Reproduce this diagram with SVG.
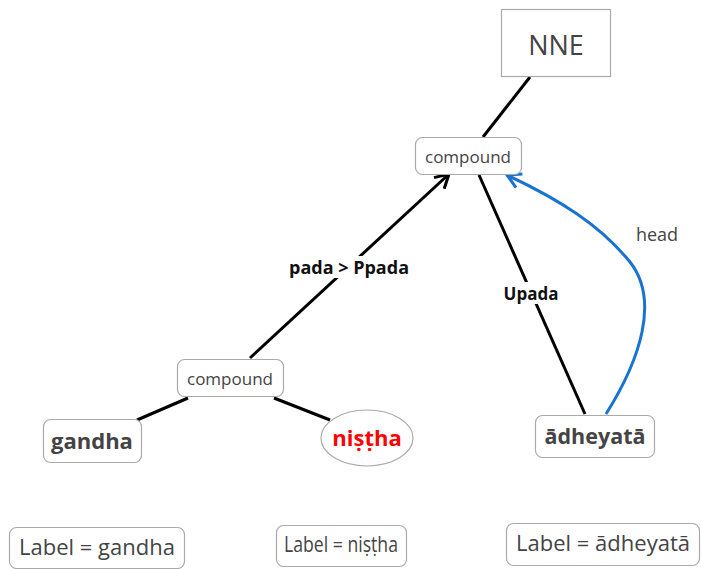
<svg xmlns="http://www.w3.org/2000/svg" width="701" height="569" viewBox="0 0 701 569">
<style>
text{font-family:"Open Sans","Noto Sans","DejaVu Sans",sans-serif;fill:#444;text-anchor:middle;dominant-baseline:central}
.box{fill:#fff;stroke:#aaa;stroke-width:1.2}
.e{fill:none;stroke:#000;stroke-width:3}
.b{font-weight:bold}
.lbl{font-weight:bold;fill:#111}
</style>
<defs>
<marker id="ak" viewBox="0 0 12 12" refX="10" refY="6" markerWidth="6" markerHeight="6" orient="auto" markerUnits="strokeWidth"><path d="M1,1 L10,6 L1,11" fill="none" stroke="#000" stroke-width="2"/></marker>
<marker id="ab" viewBox="0 0 12 12" refX="10" refY="6" markerWidth="6" markerHeight="6" orient="auto" markerUnits="strokeWidth"><path d="M1,1 L10,6 L1,11" fill="none" stroke="#1874d0" stroke-width="2"/></marker>
</defs>
<g id="edges">
<line class="e" x1="530" y1="77" x2="483" y2="137"/>
<line class="e" x1="250" y1="358" x2="449" y2="174" marker-end="url(#ak)"/>
<line class="e" x1="479" y1="175" x2="585" y2="414"/>
<line class="e" x1="188" y1="398" x2="137" y2="420"/>
<line class="e" x1="274" y1="398" x2="330" y2="420"/>
<path d="M606,414 C640,360 660,300 630,262 C600,225 560,200 507,175" fill="none" stroke="#1874d0" stroke-width="3" marker-end="url(#ab)"/>
<rect x="286" y="256" width="126" height="22" fill="#fff"/>
<text class="lbl" x="349" y="267" style="font-size:18px">pada &gt; Ppada</text>
<rect x="501" y="282" width="60" height="22" fill="#fff"/>
<text class="lbl" x="531" y="293" style="font-size:17px">Upada</text>
<text x="657" y="234" style="font-size:18px">head</text>
</g>
<g id="nne"><rect class="box" x="501.5" y="9.5" width="109" height="67"/><text x="556" y="44" style="font-size:27px">NNE</text></g>
<g id="compound1"><rect class="box" x="415.5" y="137.5" width="106" height="37" rx="7"/><text x="468" y="156" style="font-size:17px">compound</text></g>
<g id="compound2"><rect class="box" x="177.5" y="359.5" width="106" height="37" rx="7"/><text x="230" y="378" style="font-size:17px">compound</text></g>
<g id="gandha"><rect class="box" x="43.5" y="419.5" width="98" height="43" rx="7"/><text class="b" x="92" y="440" style="font-size:22px">gandha</text></g>
<g id="nistha"><ellipse class="box" cx="367" cy="438" rx="46" ry="28"/><text class="b" x="367" y="437" style="font-size:22px;fill:#f00">niṣṭha</text></g>
<g id="adheyata"><rect class="box" x="535.5" y="415.5" width="119" height="42" rx="7"/><text class="b" x="595" y="435" style="font-size:21.5px">ādheyatā</text></g>
<g id="lab1"><rect class="box" x="9.5" y="527.5" width="175" height="41" rx="7"/><text x="97" y="546" style="font-size:22px">Label = gandha</text></g>
<g id="lab2"><rect class="box" x="276.5" y="525.5" width="130" height="41" rx="7"/><text x="341" y="544" style="font-size:21px" textLength="114" lengthAdjust="spacingAndGlyphs">Label = niṣṭha</text></g>
<g id="lab3"><rect class="box" x="506.5" y="523.5" width="193" height="42" rx="7"/><text x="603" y="542" style="font-size:22px">Label = ādheyatā</text></g>
</svg>
